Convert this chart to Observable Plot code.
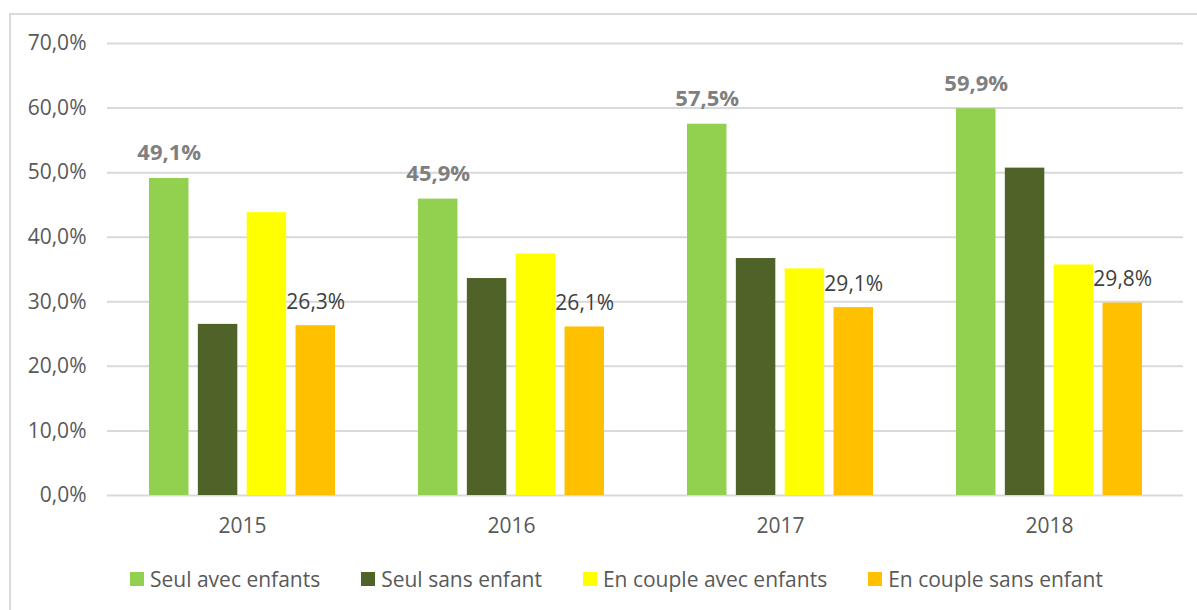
<!DOCTYPE html>
<html>
<head>
<meta charset="utf-8">
<script src="https://cdn.jsdelivr.net/npm/d3@7"></script>
<script src="https://cdn.jsdelivr.net/npm/@observablehq/plot@0.6"></script>
<style>
  html, body { margin: 0; padding: 0; background: #ffffff; }
  body { width: 1197px; height: 610px; position: relative; overflow: hidden; font-family: "Open Sans", sans-serif; }
  #frame { position: absolute; left: 9px; top: 13px; width: 1200px; height: 620px;
           border-left: 2px solid #d9d9d9; border-top: 2px solid #d9d9d9; box-sizing: border-box; }
  #chart { position: absolute; left: 0; top: 0; }
  #legend { position: absolute; left: 130px; top: 565px; display: flex; gap: 41px;
            font-size: 21px; color: #595959; white-space: nowrap; }
  #legend .item { display: flex; align-items: center; gap: 6px; }
  #legend .sw { width: 14px; height: 14px; display: inline-block; }
</style>
</head>
<body>
<div id="frame"></div>
<div id="chart"></div>
<div id="legend"></div>
<script>
// ---- Data ----
const years = ["2015", "2016", "2017", "2018"];
const series = ["Seul avec enfants", "Seul sans enfant", "En couple avec enfants", "En couple sans enfant"];
const seulAvecEnfants   = [49.1, 45.9, 57.5, 59.9];
const seulSansEnfant    = [26.5, 33.6, 36.7, 50.7];
const coupleAvecEnfants = [43.8, 37.4, 35.1, 35.7];
const coupleSansEnfant  = [26.3, 26.1, 29.1, 29.8];
const colors = ["#92d050", "#4f6228", "#ffff00", "#ffc000"];
const yTicks = [0, 10, 20, 30, 40, 50, 60, 70];

const values = [seulAvecEnfants, seulSansEnfant, coupleAvecEnfants, coupleSansEnfant];
const rows = [];
series.forEach((s, i) => years.forEach((y, j) => rows.push({year: y, series: s, idx: i, value: values[i][j]})));

// ---- Layout ----
const W = 1197, H = 545;
const mL = 107, mR = 14, mT = 43, mB = 50;
const padInner = 0.31, padOuter = 0.155;
const step = (W - mL - mR) / (years.length - padInner + 2 * padOuter);
const bw = step * (1 - padInner);
const subPad = 0.2;
const subStep = bw / (series.length - subPad);
const barW = subStep * (1 - subPad);
const fmt = d => d.toFixed(1).replace(".", ",") + "%";

const barMarks = series.map((s, i) => Plot.barY(rows.filter(r => r.idx === i), {
  x: "year", y: "value", fill: colors[i],
  insetLeft: i * subStep,
  insetRight: bw - barW - i * subStep
}));
const centerOffset = i => -bw / 2 + i * subStep + barW / 2;

const chart = Plot.plot({
  width: W, height: H,
  marginLeft: mL, marginRight: mR, marginTop: mT, marginBottom: mB,
  style: { fontFamily: "'Open Sans', sans-serif", fontSize: "21px", color: "#595959", background: "transparent" },
  x: { type: "band", domain: years, paddingInner: padInner, paddingOuter: padOuter, label: null },
  y: { domain: [0, 70], label: null },
  marks: [
    Plot.gridY(yTicks, { stroke: "#d9d9d9", strokeOpacity: 1, strokeWidth: 2 }),
    Plot.axisY(yTicks, { tickSize: 0, tickPadding: 21, tickFormat: fmt, fill: "#595959", fontSize: 21, label: null }),
    Plot.axisX({ tickSize: 0, tickPadding: 23, fill: "#595959", fontSize: 21, label: null }),
    ...barMarks,
    Plot.text(rows.filter(r => r.idx === 0), {
      x: "year", y: "value", text: d => fmt(d.value),
      dx: centerOffset(0), dy: -18, lineAnchor: "bottom",
      fill: "#7f7f7f", fontWeight: "bold", fontSize: 22
    }),
    Plot.text(rows.filter(r => r.idx === 3), {
      x: "year", y: "value", text: d => fmt(d.value),
      dx: centerOffset(3), dy: -17, lineAnchor: "bottom",
      fill: "#404040", fontSize: 21
    })
  ]
});
document.getElementById("chart").appendChild(chart);

// ---- Legend ----
const legend = document.getElementById("legend");
series.forEach((s, i) => {
  const item = document.createElement("div");
  item.className = "item";
  const sw = document.createElement("span");
  sw.className = "sw";
  sw.style.background = colors[i];
  const t = document.createElement("span");
  t.textContent = s;
  item.appendChild(sw);
  item.appendChild(t);
  legend.appendChild(item);
});
</script>
</body>
</html>
